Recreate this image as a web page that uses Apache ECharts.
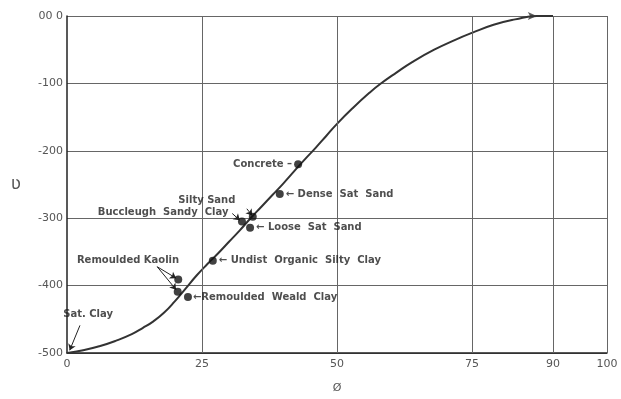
<!DOCTYPE html>
<html>
<head>
<meta charset="utf-8">
<script src="https://cdn.jsdelivr.net/npm/echarts@6/dist/echarts.min.js"></script>
<style>
  html, body { margin: 0; padding: 0; background: #fff; }
  #chart { width: 621px; height: 399px; }
</style>
</head>
<body>
<div id="chart"></div>
<script>
// curve
const curveX = [0, 3, 6, 9, 12, 14, 16, 18, 20, 22, 24, 26, 28, 30, 32, 34, 36, 38, 40, 42, 44, 46, 48, 50, 53, 56, 58, 61, 64, 68, 72, 75, 79, 83, 87, 90]
const curveY = [-500, -496, -490, -482, -472, -463, -453, -440, -423, -404, -385, -368, -352, -335, -318, -300, -283, -266, -249, -231, -213, -196, -178, -160, -136, -114, -101, -84, -68, -50, -35, -25, -13, -5, 0, 0]

// materials (dots)
const sampleNames = ['Concrete', 'Dense Sat Sand', 'Silty Sand', 'Buccleugh Sandy Clay', 'Loose Sat Sand', 'Undist Organic Silty Clay', 'Remoulded Kaolin', 'Remoulded Kaolin', 'Remoulded Weald Clay']
const sampleX = [42.8, 39.4, 34.4, 32.4, 33.9, 27.0, 20.6, 20.5, 22.4]
const sampleY = [-220, -264, -298, -305, -314, -363, -391, -409, -417]

// free-standing notes
const noteText = ['Remoulded Kaolin', 'Silty Sand', 'Buccleugh  Sandy  Clay', 'Sat. Clay']
const noteX = [11.3, 25.9, 17.8, 3.9]
const noteY = [-363, -273, -292, -442]

// leader lines: note end -> dot
const leaderFrom = [[16.7, -372], [16.7, -372], [33.3, -286], [30.6, -293], [2.4, -459]]
const leaderTo = [[20.2, -389], [20.2, -406], [34.3, -296], [32.0, -303], [0.5, -496]]

// axes
const xTickLabels = [0, 25, 50, 75, 90, 100]
const xGridLines = [25, 50, 75, 90, 100]
const yMin = -500
const yMax = 0

const chart = echarts.init(document.getElementById('chart'))

const textFont = { fontFamily: 'DejaVu Sans', fontSize: 10, fontWeight: 'bold', color: '#222' }

// label placement by name
const sideLabels = {
  'Concrete': { position: 'left', distance: 2, formatter: 'Concrete –' },
  'Dense Sat Sand': { position: 'right', distance: 2, formatter: '← Dense  Sat  Sand' },
  'Loose Sat Sand': { position: 'right', distance: 2, formatter: '← Loose  Sat  Sand' },
  'Undist Organic Silty Clay': { position: 'right', distance: 2, formatter: '← Undist  Organic  Silty  Clay' },
  'Remoulded Weald Clay': { position: 'right', distance: 1, formatter: '←Remoulded  Weald  Clay' }
}

const sampleData = sampleNames.map((name, i) => {
  const lab = sideLabels[name]
  return {
    name: name,
    value: [sampleX[i], sampleY[i]],
    label: lab ? Object.assign({ show: true }, textFont, lab) : { show: false }
  }
})

const noteData = noteText.map((t, i) => ({ name: t, value: [noteX[i], noteY[i]] }))

const leaderData = leaderFrom.map((p, i) => [{ coord: p }, { coord: leaderTo[i] }])

const option = {
  animation: false,
  grid: { left: 67, right: 14, top: 16, bottom: 44 },
  xAxis: {
    type: 'value',
    min: 0,
    max: 100,
    interval: 5,
    name: 'Ø',
    nameLocation: 'middle',
    nameGap: 30,
    nameTextStyle: { fontFamily: 'DejaVu Sans', fontSize: 11, color: '#555' },
    axisLine: { show: true, onZero: false, lineStyle: { color: '#222', width: 1.5 } },
    axisTick: { show: false },
    splitLine: { show: false },
    axisLabel: {
      fontFamily: 'DejaVu Sans',
      fontSize: 11,
      color: '#555',
      margin: 6,
      formatter: v => (xTickLabels.includes(v) ? String(v) : '')
    }
  },
  yAxis: {
    type: 'value',
    min: yMin,
    max: yMax,
    interval: 100,
    name: 'ʋ',
    nameLocation: 'middle',
    nameRotate: 0,
    nameGap: 46,
    nameTextStyle: { fontFamily: 'DejaVu Sans', fontSize: 17, color: '#555' },
    axisLine: { show: true, onZero: false, lineStyle: { color: '#222', width: 1.5 } },
    axisTick: { show: false },
    splitLine: { show: true, lineStyle: { color: '#666', width: 1 } },
    axisLabel: {
      fontFamily: 'DejaVu Sans',
      fontSize: 11,
      color: '#555',
      margin: 4,
      formatter: v => (v === 0 ? '00 0' : String(v))
    }
  },
  series: [
    {
      name: 'curve',
      type: 'line',
      data: curveX.map((x, i) => [x, curveY[i]]),
      smooth: 0.5,
      showSymbol: false,
      lineStyle: { color: '#333', width: 2 },
      silent: true,
      markLine: {
        silent: true,
        symbol: ['none', 'none'],
        label: { show: false },
        lineStyle: { color: '#666', width: 1, type: 'solid' },
        data: xGridLines.map(v => ({ xAxis: v }))
      },
      z: 3
    },
    {
      name: 'end arrow',
      type: 'scatter',
      data: [[curveX[curveX.length - 2], curveY[curveY.length - 2]]],
      symbol: 'arrow',
      symbolSize: [6, 9],
      symbolRotate: -90,
      itemStyle: { color: '#333' },
      silent: true,
      z: 4
    },
    {
      name: 'samples',
      type: 'scatter',
      data: sampleData,
      symbolSize: 8,
      itemStyle: { color: '#111' },
      z: 5
    },
    {
      name: 'notes',
      type: 'scatter',
      data: noteData,
      symbolSize: 0,
      label: Object.assign({ show: true, position: 'inside', formatter: '{b}' }, textFont),
      markLine: {
        silent: true,
        symbol: ['none', 'arrow'],
        symbolSize: 6,
        label: { show: false },
        lineStyle: { color: '#222', width: 1, type: 'solid' },
        data: leaderData
      },
      z: 6
    }
  ]
}

chart.setOption(option)
</script>
</body>
</html>
